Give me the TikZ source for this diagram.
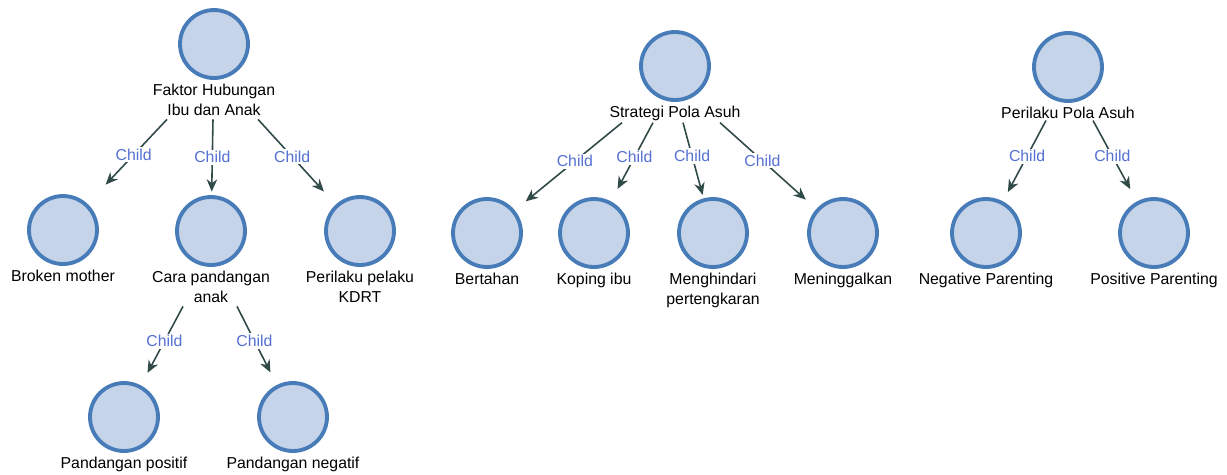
\documentclass[tikz,border=0pt]{standalone}
\usepackage{fontspec}
\setmainfont{Liberation Sans}
\usetikzlibrary{positioning,arrows.meta}

\definecolor{nodefill}{RGB}{197,212,233}
\definecolor{nodeline}{RGB}{72,124,184}
\definecolor{linkcol}{RGB}{48,74,72}
\definecolor{childcol}{RGB}{84,112,210}

\tikzset{
  topic/.style={circle, draw=nodeline, fill=nodefill, line width=2.2pt,
    minimum size=1.36cm, inner sep=0pt},
  caption/.style={font=\fontsize{9}{11.3}\selectfont, align=center, inner sep=1pt},
  link/.style={draw=linkcol, line width=0.9pt, -{Stealth[length=7pt,width=6pt]},
    shorten >=8},
  childtag/.style={font=\fontsize{9}{11}\selectfont, text=childcol, fill=white,
    inner sep=1pt, pos=0.44}
}

\begin{document}
\begin{tikzpicture}[x=0.02cm, y=-0.02cm]
    \useasboundingbox (0,0) rectangle (1227,474);

    % Draw the first tree: Faktor Hubungan Ibu dan Anak
    \node[topic] (r1) at (214,44) {};
    \node[caption, below=1pt of r1] (t1) {Faktor Hubungan\\Ibu dan Anak};
    \node[topic] (a1) at (63,230) {};
    \node[caption, below=1pt of a1] (ta1) {Broken mother};
    \node[topic] (a2) at (211,231) {};
    \node[caption, below=1pt of a2] (ta2) {Cara pandangan\\anak};
    \node[topic] (a3) at (360,231) {};
    \node[caption, below=1pt of a3] (ta3) {Perilaku pelaku\\KDRT};
    \node[topic] (b1) at (124,417) {};
    \node[caption, below=1pt of b1] (tb1) {Pandangan positif};
    \node[topic] (b2) at (293,417) {};
    \node[caption, below=1pt of b2] (tb2) {Pandangan negatif};

    \draw[link, shorten >=15] ([shift={(-47,2)}]t1.south) -- node[childtag, pos=0.42] {Child} (a1);
    \draw[link, shorten >=2] ([shift={(-1,2)}]t1.south) -- node[childtag, pos=0.5] {Child} (a2);
    \draw[link, shorten >=10] ([shift={(44,2)}]t1.south) -- node[childtag] {Child} (a3);
    \draw[link] ([shift={(-28,2)}]ta2.south) -- node[childtag] {Child} (b1);
    \draw[link] ([shift={(26,2)}]ta2.south) -- node[childtag] {Child} (b2);

    % Draw the second tree: Strategi Pola Asuh
    \node[topic] (r2) at (675,66) {};
    \node[caption, below=1pt of r2] (t2) {Strategi Pola Asuh};
    \node[topic] (s1) at (487,233) {};
    \node[caption, below=1pt of s1] (ts1) {Bertahan};
    \node[topic] (s2) at (594,233) {};
    \node[caption, below=1pt of s2] (ts2) {Koping ibu};
    \node[topic] (s3) at (713,233) {};
    \node[caption, below=1pt of s3] (ts3) {Menghindari\\pertengkaran};
    \node[topic] (s4) at (843,233) {};
    \node[caption, below=1pt of s4] (ts4) {Meninggalkan};

    \draw[link] ([shift={(-53,0)}]t2.south) -- node[childtag] {Child} (s1);
    \draw[link] ([shift={(-22,0)}]t2.south) -- node[childtag] {Child} (s2);
    \draw[link, shorten >=2] ([shift={(8,0)}]t2.south) -- node[childtag] {Child} (s3);
    \draw[link] ([shift={(45,0)}]t2.south) -- node[childtag] {Child} (s4);

    % Draw the third tree: Perilaku Pola Asuh
    \node[topic] (r3) at (1068,67) {};
    \node[caption, below=1pt of r3] (t3) {Perilaku Pola Asuh};
    \node[topic] (p1) at (986,233) {};
    \node[caption, below=1pt of p1] (tp1) {Negative Parenting};
    \node[topic] (p2) at (1154,233) {};
    \node[caption, below=1pt of p2] (tp2) {Positive Parenting};

    \draw[link, shorten >=6] ([shift={(-22,0)}]t3.south) -- node[childtag] {Child} (p1);
    \draw[link] ([shift={(25,0)}]t3.south) -- node[childtag] {Child} (p2);

\end{tikzpicture}
\end{document}
